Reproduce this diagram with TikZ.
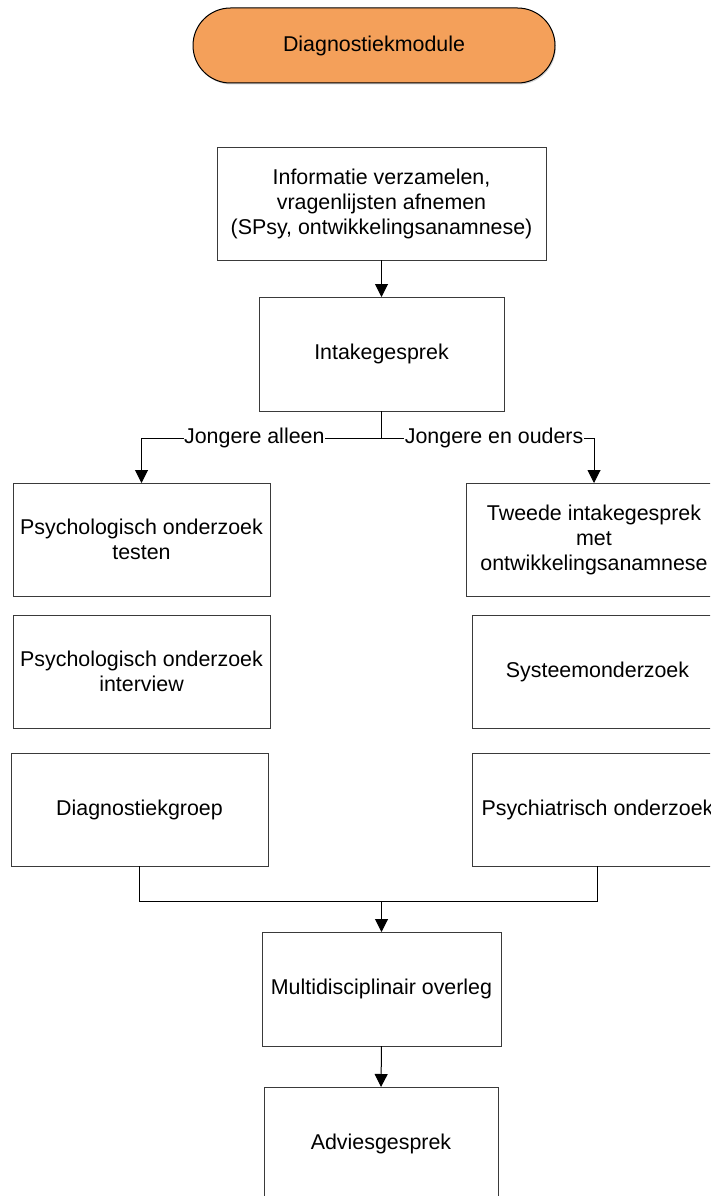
\documentclass[tikz,border=0pt]{standalone}
\usepackage{fontspec}
\setmainfont{Liberation Sans}
\usetikzlibrary{arrows.meta,shadows}
\definecolor{pillorange}{HTML}{F4A05A}
\definecolor{edge}{HTML}{3A3A3A}
\tikzset{
  box/.style={draw=edge, line width=1pt, fill=white, inner sep=2pt, outer sep=0pt, align=center, font=\fontsize{21.4}{25}\selectfont},
  pill/.style={box, fill=pillorange, rounded corners=37.5pt, draw=black,
    drop shadow={shadow xshift=1pt, shadow yshift=-1.5pt, opacity=0.35}},
  conn/.style={draw=black, line width=1pt},
  arr/.style={conn, -{Triangle[width=13pt,length=13pt]}},
  lbl/.style={fill=white, inner sep=0.5pt, font=\fontsize{21.4}{25}\selectfont}
}
\begin{document}
\begin{tikzpicture}[x=1pt, y=-1pt]
\useasboundingbox (0,0) rectangle (710,1196);
\clip (0,0) rectangle (710,1196);
\node[pill, minimum width=362pt, minimum height=75pt] (pill) at (374,45.5) {Diagnostiekmodule};
\node[box, minimum width=329pt, minimum height=113pt] (info) at (381.5,203.5) {Informatie verzamelen,\\vragenlijsten afnemen\\(SPsy, ontwikkelingsanamnese)};
\node[box, minimum width=245pt, minimum height=114pt] (intake) at (381.5,354) {Intakegesprek};
\node[box, minimum width=257pt, minimum height=113pt] (L1) at (141.5,539.5) {Psychologisch onderzoek\\testen};
\node[box, minimum width=257pt, minimum height=113pt] (L2) at (141.5,671.5) {Psychologisch onderzoek\\interview};
\node[box, minimum width=257pt, minimum height=113pt] (L3) at (139.5,809.5) {Diagnostiekgroep};
\node[box, minimum width=256pt, minimum height=113pt] (R1) at (594,539.5) {Tweede intakegesprek\\met\\ontwikkelingsanamnese};
\node[box, minimum width=251pt, minimum height=113pt] (R2) at (597.5,671.5) {Systeemonderzoek};
\node[box, minimum width=251pt, minimum height=113pt] (R3) at (597.5,809.5) {Psychiatrisch onderzoek};
\node[box, minimum width=239pt, minimum height=114pt] (MD) at (381.5,989) {Multidisciplinair overleg};
\node[box, minimum width=234pt, minimum height=114pt] (AG) at (381,1144) {Adviesgesprek};

\draw[arr] (info.south) -- (intake.north);
\coordinate (split) at (381.5,438);
\draw[conn] (intake.south) -- (split);
\draw[arr] (split) -| node[lbl, pos=0.265] {Jongere alleen} (L1.north);
\draw[arr] (split) -| node[lbl, pos=0.265] {Jongere en ouders} (R1.north);
\coordinate (join) at (381.5,901);
\draw[conn] (L3.south) |- (join);
\draw[conn] (R3.south) |- (join);
\draw[arr] (join) -- (MD.north);
\draw[arr] (MD.south) -- (AG.north);
\end{tikzpicture}
\end{document}
